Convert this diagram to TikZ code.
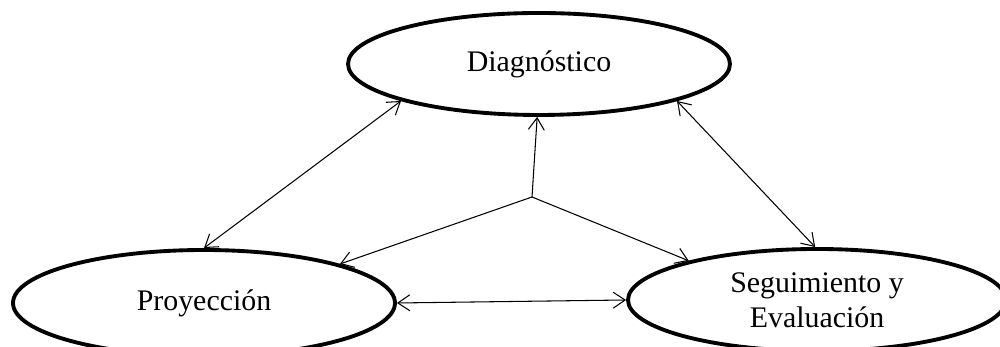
\documentclass[tikz,border=0pt]{standalone}
\usepackage{fontspec}
\setmainfont{Liberation Serif}
\usepackage{tikz}
\usetikzlibrary{shapes,arrows,arrows.meta,positioning}

\begin{document}
\begin{tikzpicture}
			\tikzstyle{Stage}	= [ellipse, draw, line width=2.2pt, fill=white, minimum width=7.64cm, minimum height=2.04cm, inner sep=0pt, font=\fontsize{17}{20}\selectfont, align=center]
			\tikzstyle{Link}	= [line width=0.6pt, >={Straight Barb[length=2.4mm,width=3.2mm]}]
			\tikzstyle{Both}	= [<->, Link]
			\tikzstyle{One}		= [->, Link]
			
			\useasboundingbox (0,0) rectangle (20,6.94);
			
			\node (diag) at (10.78,5.66) [Stage] {Diagnóstico};
			\node (proy) at (4.08,0.88) [Stage, minimum height=2.12cm] {Proyección};
			\node (seg) at (16.34,0.94) [Stage, minimum width=7.56cm] {Seguimiento y\\Evaluación};
			\coordinate (c) at (10.64,3.0);
			
			\draw (diag.195) to (proy.north) [Both];
			\draw (diag.345) to (seg.92) [Both];
			\draw (proy.east) to (seg.west) [Both];
			\draw (c) to (diag.268) [One];
			\draw (c) to (proy.16) [One];
			\draw (c) to (seg.163) [One];
		\end{tikzpicture}
\end{document}
